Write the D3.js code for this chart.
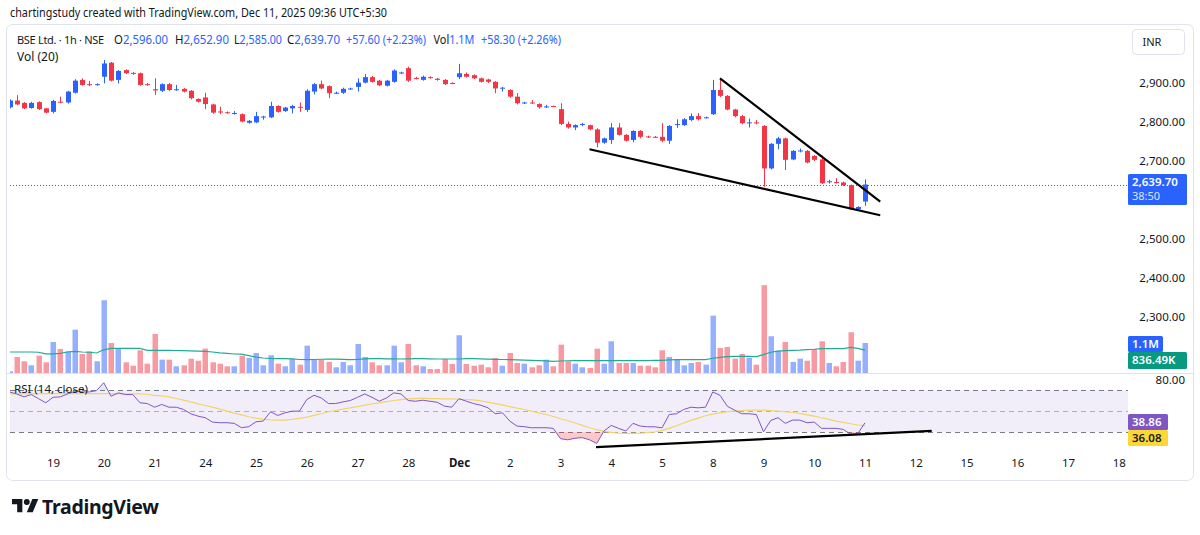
<!DOCTYPE html>
<html>
<head>
<meta charset="utf-8">
<script src="https://d3js.org/d3.v7.min.js"></script>
<style>
  body { margin: 0; background: #fff; }
  text { font-family: "Noto Sans", "DejaVu Sans", sans-serif; }
</style>
</head>
<body>
<div id="chart"></div>
<script>

// hourly bars, BSE Ltd. (NSE), last 6 bars of Nov 18 up to Dec 11 09:15
var opens = [2838, 2855, 2849, 2836, 2851, 2835, 2826, 2852, 2850, 2875,
    2908, 2897, 2895, 2916, 2952, 2908, 2933, 2926, 2925, 2897,
    2884, 2880, 2897, 2883, 2885, 2880, 2859, 2863, 2845, 2827,
    2825, 2821, 2820, 2798, 2799, 2812, 2812, 2841, 2828, 2835,
    2839, 2831, 2878, 2897, 2892, 2874, 2875, 2884, 2890, 2901,
    2915, 2906, 2893, 2903, 2925, 2938, 2913, 2908, 2915, 2911,
    2908, 2900, 2915, 2923, 2920, 2912, 2909, 2903, 2887, 2882,
    2865, 2848, 2850, 2846, 2838, 2841, 2833, 2795, 2786, 2793,
    2792, 2781, 2747, 2754, 2786, 2767, 2754, 2777, 2763, 2762,
    2762, 2752, 2794, 2792, 2805, 2815, 2810, 2820, 2882, 2867,
    2832, 2815, 2797, 2799, 2790, 2681, 2744, 2758, 2704, 2725,
    2726, 2713, 2704, 2646, 2646, 2645, 2638, 2576, 2596]
var highs = [2858, 2869, 2851, 2852, 2853, 2836, 2857, 2865, 2880, 2910,
    2912, 2905, 2899, 2959, 2954, 2933, 2935, 2928, 2927, 2900,
    2912, 2899, 2900, 2895, 2887, 2882, 2861, 2875, 2847, 2839,
    2827, 2828, 2822, 2805, 2826, 2816, 2852, 2843, 2839, 2844,
    2850, 2884, 2900, 2906, 2894, 2878, 2888, 2888, 2912, 2923,
    2918, 2908, 2908, 2935, 2929, 2942, 2916, 2919, 2917, 2913,
    2910, 2902, 2949, 2927, 2922, 2914, 2911, 2905, 2890, 2884,
    2874, 2852, 2856, 2848, 2844, 2842, 2848, 2801, 2794, 2798,
    2793, 2784, 2760, 2797, 2797, 2769, 2779, 2779, 2765, 2764,
    2797, 2792, 2807, 2810, 2822, 2823, 2814, 2908, 2912, 2869,
    2834, 2818, 2809, 2805, 2792, 2746, 2762, 2760, 2728, 2732,
    2728, 2715, 2714, 2652, 2656, 2647, 2640, 2584, 2652.9]
var lows = [2835, 2843, 2833, 2834, 2831, 2822, 2822, 2848, 2847, 2873,
    2893, 2892, 2893, 2899, 2904, 2899, 2923, 2921, 2893, 2893,
    2869, 2877, 2879, 2880, 2876, 2858, 2850, 2833, 2821, 2820,
    2821, 2819, 2799, 2796, 2797, 2806, 2810, 2824, 2826, 2822,
    2826, 2826, 2871, 2884, 2861, 2872, 2872, 2882, 2878, 2899,
    2901, 2892, 2891, 2901, 2923, 2903, 2909, 2906, 2911, 2906,
    2895, 2897, 2910, 2914, 2910, 2901, 2900, 2874, 2878, 2862,
    2845, 2846, 2846, 2834, 2836, 2838, 2792, 2783, 2779, 2789,
    2779, 2735, 2744, 2744, 2765, 2750, 2748, 2758, 2759, 2759,
    2748, 2744, 2785, 2790, 2802, 2804, 2809, 2818, 2864, 2830,
    2812, 2794, 2786, 2794, 2634, 2678, 2730, 2677, 2702, 2722,
    2694, 2700, 2641, 2642, 2642, 2636, 2574, 2573, 2585]
var closes = [2855, 2845, 2835, 2849, 2833, 2824, 2854, 2850, 2878, 2906,
    2895, 2896, 2897, 2950, 2906, 2931, 2925, 2924, 2895, 2895,
    2881, 2897, 2882, 2884, 2878, 2861, 2852, 2846, 2824, 2825,
    2823, 2823, 2801, 2803, 2815, 2814, 2841, 2826, 2837, 2841,
    2837, 2880, 2897, 2886, 2874, 2875, 2885, 2886, 2901, 2915,
    2903, 2894, 2906, 2932, 2927, 2906, 2912, 2916, 2913, 2908,
    2897, 2899, 2925, 2916, 2912, 2903, 2903, 2886, 2888, 2865,
    2848, 2850, 2848, 2838, 2840, 2840, 2795, 2786, 2792, 2795,
    2781, 2747, 2758, 2786, 2767, 2752, 2777, 2762, 2762, 2761,
    2752, 2790, 2795, 2807, 2815, 2807, 2812, 2882, 2867, 2832,
    2815, 2797, 2799, 2797, 2681, 2744, 2758, 2703, 2726, 2727,
    2696, 2703, 2643, 2648, 2644, 2638, 2576, 2582.1, 2639.7]

// volume in thousands, and its 20-bar average as drawn
var volumes = [60, 587, 429, 283, 635, 393, 1138, 881, 796, 1589,
    697, 796, 429, 2668, 1101, 881, 393, 268, 833, 341,
    1431, 488, 488, 246, 283, 525, 451, 892, 393, 341,
    246, 246, 635, 551, 734, 283, 650, 341, 246, 514,
    305, 1002, 514, 488, 404, 209, 404, 283, 1064, 587,
    393, 283, 283, 1002, 393, 1064, 283, 246, 147, 147,
    514, 330, 1384, 330, 268, 305, 209, 551, 268, 734,
    367, 341, 209, 283, 488, 246, 1039, 429, 341, 209,
    184, 892, 341, 1163, 367, 367, 367, 268, 268, 209,
    833, 587, 514, 283, 367, 404, 305, 2103, 918, 954,
    525, 697, 551, 305, 3219, 1347, 818, 1138, 404, 525,
    451, 881, 1163, 367, 246, 404, 1494, 451, 1100]
var volMA = [770, 770, 770, 770, 760, 700, 700, 720, 770, 795,
    770, 760, 734, 850, 905, 905, 905, 905, 900, 832,
    832, 832, 832, 825, 819, 810, 800, 795, 770, 740,
    720, 697, 690, 640, 580, 550, 535, 526, 526, 515,
    495, 490, 495, 505, 514, 510, 500, 489, 500, 520,
    526, 526, 520, 520, 514, 520, 526, 526, 520, 514,
    514, 514, 514, 526, 526, 520, 510, 500, 495, 489,
    480, 470, 460, 453, 445, 428, 440, 450, 453, 453,
    453, 453, 453, 453, 453, 453, 453, 453, 455, 460,
    465, 480, 489, 489, 489, 489, 489, 540, 575, 600,
    611, 615, 611, 600, 673, 760, 800, 820, 830, 840,
    856, 870, 893, 893, 893, 893, 942, 900, 836.49]

// RSI (14, close) and its moving average
var rsi = [68.4, 66.5, 63.7, 65.9, 62, 58, 63.3, 63.7, 66.5, 69,
    68.4, 68.4, 69.7, 77.3, 64.3, 67.5, 65.9, 65.9, 58, 57.3,
    53.8, 56.4, 53.8, 53.8, 51.6, 47.5, 45.2, 43.7, 39.5, 38.9,
    38.9, 38.3, 34.1, 35.1, 39.8, 40.5, 49.4, 45.9, 48.4, 50,
    50, 61.1, 65.2, 62.7, 57.3, 57.3, 58.9, 60.2, 63.3, 66.5,
    63.3, 59.5, 62.7, 67.5, 66.5, 60.2, 59.5, 60.5, 59.5, 58.5,
    54.8, 53.8, 62, 59.5, 57.3, 55.7, 53.2, 47.5, 48.4, 40.5,
    35.7, 35.1, 34.1, 34.1, 34.1, 33.5, 23.6, 22.5, 24, 24.6,
    22.5, 19, 31, 36.3, 33.5, 31, 38.3, 35.7, 35, 35,
    34, 46.8, 47.5, 51.6, 53.8, 53.2, 53.8, 68.4, 65.2, 54.8,
    51, 47.5, 47.5, 46.8, 30.3, 41.1, 43.7, 38.3, 41.4, 41.4,
    38.9, 39.5, 33.5, 33.5, 33.5, 32.5, 27.8, 28.5, 38.86]
var rsiMA = [66.5, 66.5, 66.5, 66.8, 66.8, 66.8, 66.8, 66.8, 66.8, 66.8,
    66.8, 66.8, 66.8, 66.8, 66.8, 66.8, 66.5, 66.5, 66.5, 66.2,
    65.2, 64.6, 63.7, 62.1, 60.5, 58.9, 57, 55.4, 53.8, 51.9,
    50, 48.1, 46.5, 44.6, 43.3, 42.4, 41.7, 41.4, 41.4, 42.1,
    43, 44.3, 45.9, 47.5, 49.4, 50.6, 51.9, 53.2, 54.4, 55.7,
    57, 57.9, 59.2, 60.2, 61.1, 61.7, 62.1, 62.4, 62.1, 62.1,
    61.7, 61.7, 61.4, 61.1, 60.8, 59.8, 58.6, 57.3, 56, 54.4,
    52.9, 51.6, 50, 48.4, 46.8, 44.9, 42.7, 40.8, 38.6, 36.3,
    34.1, 32.2, 30.6, 29.7, 29, 28.7, 28.7, 29, 29.4, 30,
    31.6, 33.5, 36, 38.6, 41.1, 43.3, 45.6, 47.1, 48.4, 49.4,
    50, 50.6, 51, 51, 51, 50.6, 50, 49.4, 48.7, 47.8,
    46.5, 45.2, 43.7, 42.1, 40.5, 39.2, 37.9, 36.7, 36.08]

// time axis: 7 hourly bars per session, first full session (19) starts at bar 6
var dayLabels = ["19", "20", "21", "24", "25", "26", "27", "28", "Dec", "2", "3",
    "4", "5", "8", "9", "10", "11", "12", "15", "16", "17", "18"]
var barsPerDay = 7, firstDayBar = 6
var priceTicks = [2300, 2400, 2500, 2700, 2800, 2900]
var rsiLevels = [70, 50, 30]

// drawn trend lines [bar index, value]
var upperTrend = [[98, 2912], [120.1, 2596]]
var lowerTrend = [[80, 2730], [120.1, 2561]]
var rsiTrend = [[80.9, 15.5], [127.2, 31]]

var up = "#2962ff", down = "#f23645"
var dark = "#131722"

var svg = d3.select("#chart").append("svg")
    .attr("width", 1200).attr("height", 535)

// scales
var x = d3.scaleLinear().domain([0, 153]).range([9.5, 9.5 + 153 * 7.25])
var y = d3.scaleLinear().domain([2300, 2900]).range([317, 83])
var yVol = d3.scaleLinear().domain([0, 1100]).range([373, 343])
var yRsi = d3.scaleLinear().domain([30, 70]).range([432, 390.3])
var plotLeft = 10, plotRight = 1128

// attribution line
svg.append("text").attr("x", 10).attr("y", 17)
    .attr("font-size", 12).attr("fill", dark)
    .attr("textLength", 377).attr("lengthAdjust", "spacingAndGlyphs")
    .text("chartingstudy created with TradingView.com, Dec 11, 2025 09:36 UTC+5:30")

// chart frame
svg.append("rect").attr("x", 6.5).attr("y", 24.5).attr("width", 1187).attr("height", 456)
    .attr("rx", 6).attr("fill", "none").attr("stroke", "#e0e3eb")
svg.append("line").attr("x1", 7).attr("x2", 1193).attr("y1", 373.5).attr("y2", 373.5)
    .attr("stroke", "#e0e3eb")

var defs = svg.append("defs")
defs.append("clipPath").attr("id", "mainClip").append("rect")
    .attr("x", plotLeft).attr("y", 25).attr("width", plotRight - plotLeft).attr("height", 348)
defs.append("clipPath").attr("id", "rsiClip").append("rect")
    .attr("x", plotLeft).attr("y", 374).attr("width", plotRight - plotLeft).attr("height", 80)
defs.append("clipPath").attr("id", "below30").append("rect")
    .attr("x", plotLeft).attr("y", yRsi(30)).attr("width", plotRight - plotLeft).attr("height", 40)
defs.append("clipPath").attr("id", "above70").append("rect")
    .attr("x", plotLeft).attr("y", 374).attr("width", plotRight - plotLeft).attr("height", yRsi(70) - 374)
var grad = defs.append("linearGradient").attr("id", "pinkGrad")
    .attr("x1", 0).attr("x2", 0).attr("y1", 0).attr("y2", 1)
grad.append("stop").attr("offset", "0%").attr("stop-color", "rgba(242,54,69,0.05)")
grad.append("stop").attr("offset", "100%").attr("stop-color", "rgba(242,54,69,0.3)")

var bars = d3.range(closes.length)
function px(i) { return Math.round(x(i)) }
function col(i) { return closes[i] >= opens[i] ? up : down }

var main = svg.append("g").attr("clip-path", "url(#mainClip)")

// volume
main.selectAll(".vol").data(bars).join("rect")
    .attr("x", i => px(i) - 2.5).attr("width", 5.5)
    .attr("y", i => yVol(volumes[i]))
    .attr("height", i => yVol(0) - yVol(volumes[i]))
    .attr("fill", i => closes[i] >= opens[i] ? "rgba(41,98,255,0.5)" : "rgba(242,54,69,0.5)")
main.append("path").datum(bars)
    .attr("d", d3.line().x(i => x(i)).y(i => yVol(volMA[i])))
    .attr("fill", "none").attr("stroke", "#22ab94").attr("stroke-width", 1.2)

// current price line
var lastY = Math.round(y(closes[closes.length - 1])) + 0.5
main.append("line").attr("x1", plotLeft).attr("x2", plotRight)
    .attr("y1", lastY).attr("y2", lastY)
    .attr("stroke", up).attr("stroke-dasharray", "1,2")

// candles
main.selectAll(".wick").data(bars).join("line")
    .attr("x1", i => px(i) + 0.5).attr("x2", i => px(i) + 0.5)
    .attr("y1", i => y(highs[i])).attr("y2", i => y(lows[i]))
    .attr("stroke", col)
main.selectAll(".body").data(bars).join("rect")
    .attr("x", i => px(i) - 2).attr("width", 5)
    .attr("y", i => y(Math.max(opens[i], closes[i])))
    .attr("height", i => Math.max(1, Math.abs(y(opens[i]) - y(closes[i]))))
    .attr("fill", col)

// trend lines on price
;[upperTrend, lowerTrend].forEach(function (t) {
    main.append("line")
        .attr("x1", x(t[0][0])).attr("y1", y(t[0][1]))
        .attr("x2", x(t[1][0])).attr("y2", y(t[1][1]))
        .attr("stroke", "#000").attr("stroke-width", 2.2)
})

// RSI pane
var rp = svg.append("g").attr("clip-path", "url(#rsiClip)")
rp.append("rect").attr("x", plotLeft).attr("width", plotRight - plotLeft)
    .attr("y", yRsi(70)).attr("height", yRsi(30) - yRsi(70))
    .attr("fill", "rgba(126,87,194,0.1)")
rp.selectAll(".lvl").data(rsiLevels).join("line")
    .attr("x1", plotLeft).attr("x2", plotRight)
    .attr("y1", d => Math.round(yRsi(d)) + 0.5).attr("y2", d => Math.round(yRsi(d)) + 0.5)
    .attr("stroke", "#787b86").attr("stroke-dasharray", "5,4")
    .attr("stroke-opacity", d => d == 50 ? 0.55 : 1)

rp.append("path").datum(bars).attr("clip-path", "url(#below30)")
    .attr("d", d3.area().x(i => x(i)).y0(yRsi(30)).y1(i => yRsi(rsi[i])))
    .attr("fill", "url(#pinkGrad)")
rp.append("path").datum(bars).attr("clip-path", "url(#above70)")
    .attr("d", d3.area().x(i => x(i)).y0(yRsi(70)).y1(i => yRsi(rsi[i])))
    .attr("fill", "rgba(8,153,129,0.15)")

rp.append("path").datum(bars)
    .attr("d", d3.line().x(i => x(i)).y(i => yRsi(rsiMA[i])))
    .attr("fill", "none").attr("stroke", "#f2d46a").attr("stroke-width", 1.2)
rp.append("path").datum(bars)
    .attr("d", d3.line().x(i => x(i)).y(i => yRsi(rsi[i])))
    .attr("fill", "none").attr("stroke", "#7e57c2").attr("stroke-width", 1)
rp.append("line")
    .attr("x1", x(rsiTrend[0][0])).attr("y1", yRsi(rsiTrend[0][1]))
    .attr("x2", x(rsiTrend[1][0])).attr("y2", yRsi(rsiTrend[1][1]))
    .attr("stroke", "#000").attr("stroke-width", 2.2)

svg.append("text").attr("x", 14).attr("y", 393).attr("font-size", 11.5)
    .attr("fill", dark).text("RSI (14, close)")

// header legend: symbol, then [label, value, x]
svg.append("text").attr("x", 17).attr("y", 44).attr("font-size", 11)
    .attr("font-family", "Liberation Sans").attr("letter-spacing", -0.3)
    .attr("fill", dark).text("BSE Ltd. · 1h · NSE")
var legend = [["O", "2,596.00", 114], ["H", "2,652.90", 175],
    ["L", "2,585.00", 234], ["C", "2,639.70", 287], ["", "+57.60 (+2.23%)", 346],
    ["Vol", "1.1M", 433.5], ["", "+58.30 (+2.26%)", 481]]
var legendW = [54, 54, 48, 53, 80, 41, 80]
legend.forEach(function (p, k) {
    var t = svg.append("text").attr("x", p[2]).attr("y", 44).attr("font-size", 12)
        .attr("font-family", "Liberation Sans")
        .attr("textLength", legendW[k]).attr("lengthAdjust", "spacingAndGlyphs")
    t.append("tspan").attr("fill", dark).text(p[0])
    t.append("tspan").attr("fill", up).text(p[1])
})
svg.append("text").attr("x", 17).attr("y", 61).attr("font-size", 12)
    .attr("font-family", "Liberation Sans").attr("fill", dark).text("Vol (20)")

// price axis
var yAxis = svg.append("g").attr("transform", "translate(1185,0)")
    .call(d3.axisRight(y).tickValues(priceTicks).tickFormat(d3.format(",.2f")).tickSize(0).tickPadding(0))
yAxis.select(".domain").remove()
yAxis.selectAll("text").attr("text-anchor", "end").attr("x", 0)
    .attr("font-size", 11.5).attr("font-family", "Noto Sans").attr("fill", dark)

var rAxis = svg.append("g").attr("transform", "translate(1185,0)")
    .call(d3.axisRight(yRsi).tickValues([80]).tickFormat(d3.format(".2f")).tickSize(0).tickPadding(0))
rAxis.select(".domain").remove()
rAxis.selectAll("text").attr("text-anchor", "end").attr("x", 0)
    .attr("font-size", 11.5).attr("font-family", "Noto Sans").attr("fill", dark)

// INR badge
svg.append("rect").attr("x", 1132.5).attr("y", 29.5).attr("width", 52).attr("height", 25)
    .attr("rx", 4).attr("fill", "#fff").attr("stroke", "#e0e3eb")
svg.append("text").attr("x", 1152).attr("y", 46).attr("text-anchor", "middle")
    .attr("font-size", 11).attr("fill", dark).text("INR")

// last value labels
function badge(yTop, h, w, fill, lines, txt) {
    svg.append("rect").attr("x", 1128).attr("y", yTop).attr("width", w).attr("height", h)
        .attr("rx", 1.5).attr("fill", fill)
    lines.forEach(function (l, k) {
        svg.append("text").attr("x", 1132).attr("y", yTop + 12 + k * 14)
            .attr("font-size", k == 0 ? 11.5 : 11).attr("font-weight", k == 0 ? 600 : 400)
            .attr("fill", txt || "#fff").attr("fill-opacity", k == 0 ? 1 : 0.85).text(l)
    })
}
badge(174, 31, 59, up, [d3.format(",.2f")(closes[closes.length - 1]), "38:50"])
badge(336, 16, 35, up, ["1.1M"])
badge(352, 17, 59, "#089981", [d3.format(".2f")(volMA[volMA.length - 1]) + "K"])
badge(414, 16, 40, "#7e57c2", [d3.format(".2f")(rsi[rsi.length - 1])])
badge(430, 16, 40, "#fdd835", [d3.format(".2f")(rsiMA[rsiMA.length - 1])], dark)

// time axis
var tickIdx = dayLabels.map((d, k) => firstDayBar + k * barsPerDay)
var xAxis = svg.append("g").attr("transform", "translate(0,457)")
    .call(d3.axisBottom(x).tickValues(tickIdx).tickFormat((d, k) => dayLabels[k]).tickSize(0).tickPadding(0))
xAxis.select(".domain").remove()
xAxis.selectAll("text").attr("font-size", 11.5).attr("font-family", "Noto Sans").attr("fill", dark)
    .attr("dy", "0.9em")
    .attr("font-weight", (d, k) => dayLabels[k] == "Dec" ? 700 : 400)

// TradingView logo
var logo = svg.append("g").attr("transform", "translate(12,496) scale(0.74)")
logo.append("path").attr("d", "M14 22H7V11H0V4h14v18zM28 22h-8l7.5-18h8L28 22z").attr("fill", dark)
logo.append("circle").attr("cx", 20).attr("cy", 8).attr("r", 4).attr("fill", dark)
svg.append("text").attr("x", 42).attr("y", 514).attr("font-size", 19.5).attr("font-weight", 700)
    .attr("font-family", "Inter").attr("fill", dark).attr("letter-spacing", -0.3).text("TradingView")

</script>
</body>
</html>
